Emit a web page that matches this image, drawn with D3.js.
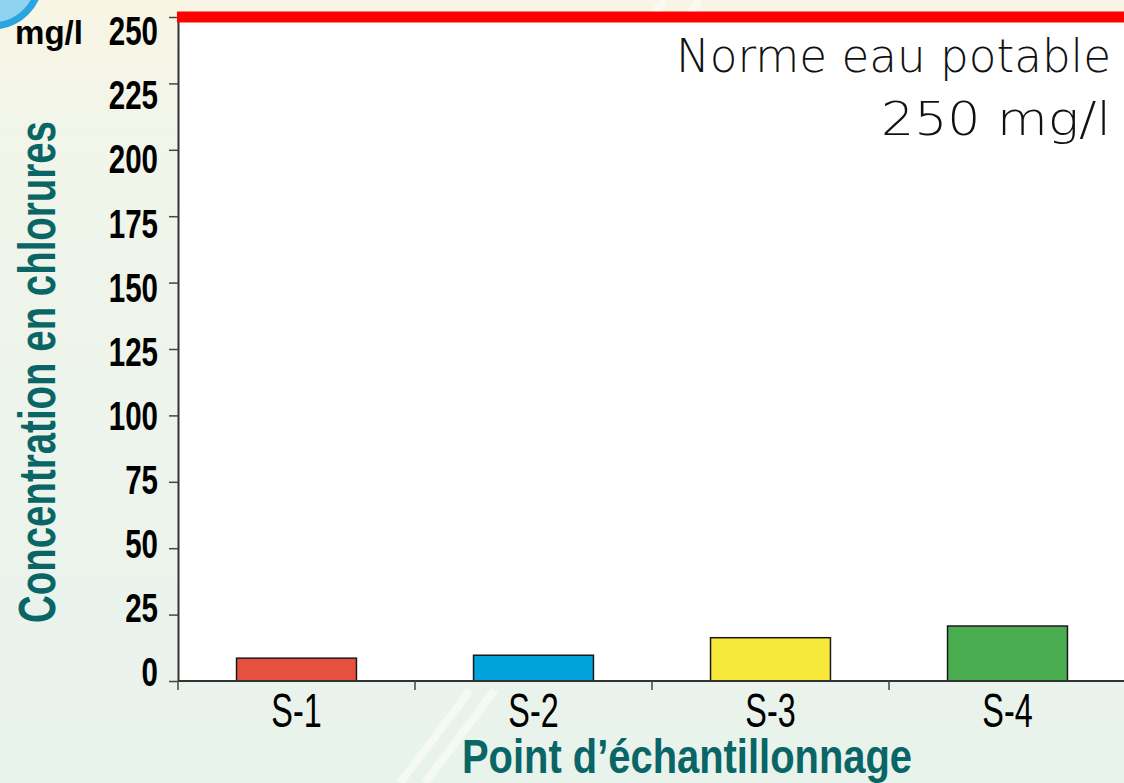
<!DOCTYPE html>
<html>
<head>
<meta charset="utf-8">
<script src="https://cdn.jsdelivr.net/npm/d3@7"></script>
<style>
  html, body { margin: 0; padding: 0; }
  body { width: 1124px; height: 783px; overflow: hidden; }
  .axis text { font-family: "Liberation Sans", Arial, sans-serif; fill: #000; }
</style>
</head>
<body>
<svg id="chart" width="1124" height="783"></svg>
<script>
// data
const points = ["S-1", "S-2", "S-3", "S-4"];
const chlorures = [8.6, 9.7, 16.3, 20.7];
const barColors = ["#e65040", "#00a3dc", "#f7e93a", "#4aae50"];
const yTicks = [0, 25, 50, 75, 100, 125, 150, 175, 200, 225, 250];
const norme = 250;

const svg = d3.select("#chart");
const width = 1124, height = 783;
const teal = "#0a6566";
const squeeze = 0.72; // fake a condensed face

// background, cream on top fading to pale green
const defs = svg.append("defs");
const grad = defs.append("linearGradient").attr("id", "bg").attr("x1", 0).attr("y1", 0).attr("x2", 0).attr("y2", 1);
grad.append("stop").attr("offset", "0%").attr("stop-color", "#f8f5e4");
grad.append("stop").attr("offset", "18%").attr("stop-color", "#f1f5ea");
grad.append("stop").attr("offset", "100%").attr("stop-color", "#e8f3ec");
svg.append("rect").attr("width", width).attr("height", height).attr("fill", "url(#bg)");

// faint diagonal streaks of the backdrop
[[400, 783, 470, 690], [425, 783, 495, 690], [655, 12, 665, 0], [690, 12, 700, 0]].forEach(s => {
  svg.append("line")
    .attr("x1", s[0]).attr("y1", s[1]).attr("x2", s[2]).attr("y2", s[3])
    .attr("stroke", "#ffffff").attr("stroke-width", 8).attr("opacity", 0.55);
});

// bit of the blue logo in the corner
svg.append("circle").attr("cx", -8).attr("cy", -22).attr("r", 48)
  .attr("fill", "#8fd3f0").attr("stroke", "#29a6df").attr("stroke-width", 7);

const y = d3.scaleLinear().domain([0, 250]).range([681, 17]);
// the tick labels sit on a slightly tighter spacing than the ticks themselves
const yLabel = d3.scaleLinear().domain([0, 250]).range([671, 30]);
const x = d3.scaleBand().domain(points).range([178, 1126]).padding(0);
const barW = x.bandwidth() * 0.506;

// white plot area
svg.append("rect")
  .attr("x", 178).attr("y", y(250))
  .attr("width", width - 178).attr("height", y(0) - y(250))
  .attr("fill", "#ffffff");

// bars
svg.append("g").selectAll("rect")
  .data(chlorures)
  .join("rect")
  .attr("x", (d, i) => x(points[i]) + (x.bandwidth() - barW) / 2)
  .attr("y", d => y(d))
  .attr("width", barW)
  .attr("height", d => y(0) - y(d))
  .attr("fill", (d, i) => barColors[i])
  .attr("stroke", "#1a1a1a")
  .attr("stroke-width", 1.5);

// y axis
const yAxis = svg.append("g")
  .attr("class", "axis")
  .attr("transform", "translate(178,0)")
  .call(d3.axisLeft(y).tickValues(yTicks).tickSize(9).tickSizeOuter(0));
yAxis.select(".domain").attr("stroke", "#333").attr("stroke-width", 2);
yAxis.selectAll(".tick line").attr("stroke", "#444").attr("stroke-width", 1.5);
yAxis.selectAll(".tick text")
  .attr("font-size", 41).attr("font-weight", "bold")
  .attr("x", -20 / squeeze)
  .attr("y", d => yLabel(d) - y(d))
  .attr("dy", "0.36em")
  .attr("transform", `scale(${squeeze},1)`);

// x axis: labels centred in bands, ticks on the band edges
const xAxis = svg.append("g")
  .attr("class", "axis")
  .attr("transform", `translate(0,${y(0)})`)
  .call(d3.axisBottom(x).tickSize(0).tickPadding(0));
xAxis.select(".domain").remove();
xAxis.selectAll(".tick text")
  .attr("font-size", 49).attr("y", 46).attr("dy", 0)
  .attr("transform", "scale(0.66,1)");

svg.append("line")
  .attr("x1", 178).attr("x2", width).attr("y1", y(0)).attr("y2", y(0))
  .attr("stroke", "#333").attr("stroke-width", 2);
svg.append("g").selectAll("line")
  .data(points)
  .join("line")
  .attr("x1", d => x(d)).attr("x2", d => x(d))
  .attr("y1", y(0)).attr("y2", y(0) + 9)
  .attr("stroke", "#444").attr("stroke-width", 1.5);

// drinking-water limit
svg.append("line")
  .attr("x1", 177).attr("x2", width)
  .attr("y1", y(norme)).attr("y2", y(norme))
  .attr("stroke", "#ff0000").attr("stroke-width", 11);

const noteLines = [["Norme eau potable", 72, 435], [norme + " mg/l", 135, 230]];
svg.append("g").selectAll("text")
  .data(noteLines)
  .join("text")
  .attr("x", 1111).attr("y", d => d[1])
  .attr("text-anchor", "end")
  .attr("font-family", "'DejaVu Sans', sans-serif")
  .attr("font-weight", 200)
  .attr("font-size", 47)
  .attr("fill", "#111")
  .attr("textLength", d => d[2]).attr("lengthAdjust", "spacingAndGlyphs")
  .text(d => d[0]);

// unit and axis titles
svg.append("text")
  .attr("x", 15).attr("y", 44)
  .attr("font-family", "'Liberation Sans', sans-serif")
  .attr("font-weight", "bold").attr("font-size", 33)
  .attr("textLength", 68).attr("lengthAdjust", "spacingAndGlyphs")
  .text("mg/l");

svg.append("text")
  .attr("x", 687).attr("y", 773)
  .attr("text-anchor", "middle")
  .attr("font-family", "'Liberation Sans', sans-serif")
  .attr("font-weight", "bold").attr("font-size", 48)
  .attr("fill", teal)
  .attr("textLength", 450).attr("lengthAdjust", "spacingAndGlyphs")
  .text("Point d’échantillonnage");

svg.append("text")
  .attr("transform", "translate(55,372) rotate(-90)")
  .attr("text-anchor", "middle")
  .attr("font-family", "'Liberation Sans', sans-serif")
  .attr("font-weight", "bold").attr("font-size", 52)
  .attr("fill", teal)
  .attr("textLength", 502).attr("lengthAdjust", "spacingAndGlyphs")
  .text("Concentration en chlorures");
</script>
</body>
</html>
